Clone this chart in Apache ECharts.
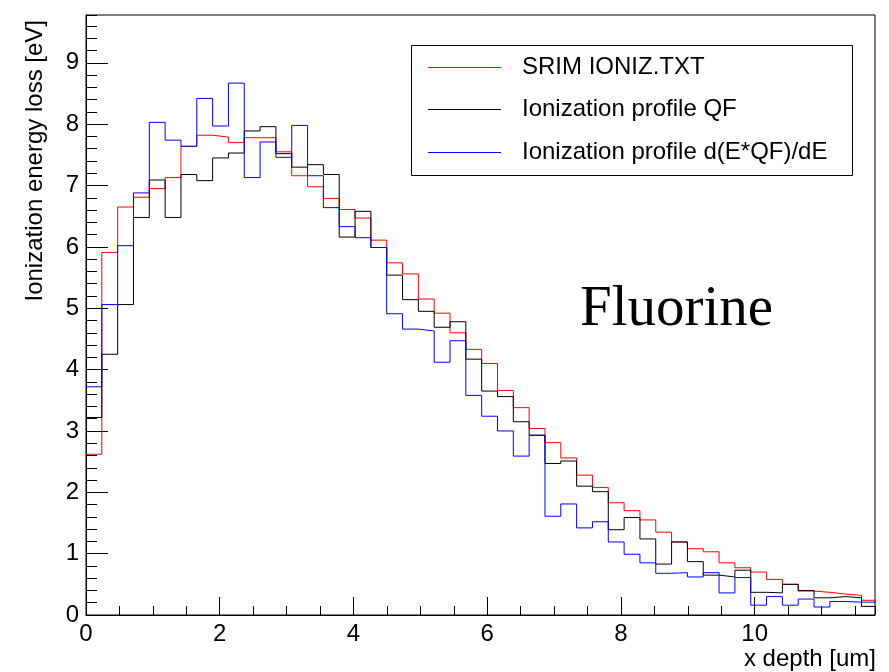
<!DOCTYPE html>
<html>
<head>
<meta charset="utf-8">
<script src="https://cdn.jsdelivr.net/npm/echarts@6/dist/echarts.min.js"></script>
<style>
html,body{margin:0;padding:0;background:#fff;}
#chart{width:889px;height:672px;}
</style>
</head>
<body>
<div id="chart"></div>
<script>
// ---- data ----
const binWidth = 0.2367;          // um per bin (50 bins)
const seriesNames = ['SRIM IONIZ.TXT', 'Ionization profile QF', 'Ionization profile d(E*QF)/dE'];
const srimIoniz = [2.62, 5.91, 6.65, 6.81, 6.95, 7.13, 7.64, 7.82, 7.79, 7.70,
                   7.78, 7.78, 7.55, 7.16, 6.98, 6.79, 6.61, 6.47, 6.11, 5.74,
                   5.56, 5.15, 4.92, 4.60, 4.33, 4.10, 3.66, 3.38, 3.04, 2.81,
                   2.56, 2.28, 2.08, 1.83, 1.70, 1.55, 1.35, 1.19, 1.08, 1.03,
                   0.85, 0.77, 0.70, 0.58, 0.50, 0.39, 0.37, 0.34, 0.32, 0.24];
const profileQF = [3.22, 4.25, 5.06, 6.48, 7.09, 6.48, 7.18, 7.08, 7.45, 7.53,
                   7.89, 7.96, 7.52, 7.30, 7.34, 7.18, 6.16, 6.58, 5.99, 5.54,
                   5.14, 4.95, 4.69, 4.78, 4.17, 3.65, 3.56, 3.15, 2.93, 2.47,
                   2.51, 2.10, 2.01, 1.39, 1.59, 1.24, 0.83, 1.19, 0.87, 0.65,
                   0.62, 0.73, 0.37, 0.36, 0.50, 0.40, 0.28, 0.30, 0.28, 0.14];
const profileDEQF = [3.72, 5.06, 6.02, 6.88, 8.03, 7.74, 7.64, 8.42, 7.97, 8.67,
                     7.13, 7.71, 7.46, 7.98, 7.16, 6.64, 6.33, 6.15, 5.99, 4.91,
                     4.66, 4.63, 4.12, 4.47, 3.58, 3.24, 3.00, 2.59, 2.93, 1.61,
                     1.81, 1.42, 1.52, 1.19, 0.99, 0.85, 0.68, 0.69, 0.62, 0.69,
                     0.36, 0.61, 0.16, 0.30, 0.16, 0.26, 0.13, 0.22, 0.21, 0.21];
const xTickLabels = ['0', '2', '4', '6', '8', '10'];
const yTickLabels = ['0', '1', '2', '3', '4', '5', '6', '7', '8', '9'];
const xTitle = 'x depth [um]';
const yTitle = 'Ionization energy loss [eV]';
const annotation = 'Fluorine';

// ---- build ----
const colors = ['#ff0000', '#000000', '#0000ff'];
function histPoints(vals) {
  const pts = vals.map((v, i) => [i * binWidth, v]);
  pts.push([vals.length * binWidth, vals[vals.length - 1]]);
  return pts;
}
const FONT = '"Liberation Sans", Arial, Helvetica, sans-serif';
const xMax = 11.8, yMax = 9.78;

function labelFmt(list) {
  return function (v) {
    const s = String(Math.round(v * 1000) / 1000);
    return list.indexOf(s) >= 0 && Math.abs(v - Math.round(v)) < 1e-6 ? s : '';
  };
}

const chart = echarts.init(document.getElementById('chart'), null, { renderer: 'canvas' });
const legendY = [67, 109, 152];
const graphics = [
  { type: 'text', x: 35, y: 20, rotation: Math.PI / 2, z: 10,
    style: { text: yTitle, font: '24px ' + FONT, fill: '#000', align: 'right', verticalAlign: 'middle' } },
  { type: 'text', x: 876, y: 659, z: 10,
    style: { text: xTitle, font: '24px ' + FONT, fill: '#000', align: 'right', verticalAlign: 'middle' } },
  { type: 'rect', z: 10, shape: { x: 411.5, y: 45.5, width: 441, height: 130 },
    style: { fill: '#fff', stroke: '#000', lineWidth: 1 } },
  { type: 'text', x: 580, y: 310, z: 10,
    style: { text: annotation, font: '57px "Liberation Serif", "Times New Roman", serif', fill: '#000', align: 'left', verticalAlign: 'middle' } }
];
seriesNames.forEach((n, i) => {
  graphics.push({ type: 'line', z: 11, shape: { x1: 428, y1: legendY[i] + 0.5, x2: 501, y2: legendY[i] + 0.5 },
    style: { stroke: colors[i], lineWidth: 1.2 } });
  graphics.push({ type: 'text', x: 522, y: legendY[i], z: 11,
    style: { text: n, font: '24px ' + FONT, fill: '#000', align: 'left', verticalAlign: 'middle' } });
});

const option = {
  animation: false,
  backgroundColor: '#fff',
  grid: { left: 86, right: 14, top: 15, bottom: 57, show: true, borderColor: '#000', borderWidth: 1, backgroundColor: 'transparent' },
  xAxis: [
    { type: 'value', min: 0, max: xMax, interval: 2, position: 'bottom',
      axisLine: { show: true, onZero: false, lineStyle: { color: '#000', width: 1 } },
      axisTick: { show: true, inside: true, length: 18, lineStyle: { color: '#000' } },
      axisLabel: { show: true, margin: 7, fontSize: 24, fontFamily: FONT, color: '#000', formatter: labelFmt(xTickLabels), showMaxLabel: false },
      splitLine: { show: false } },
    { type: 'value', min: 0, max: xMax, interval: 0.5, position: 'bottom', offset: 0,
      axisLine: { show: false },
      axisTick: { show: true, inside: true, length: 9, lineStyle: { color: '#000' } },
      axisLabel: { show: false }, splitLine: { show: false } }
  ],
  yAxis: [
    { type: 'value', min: 0, max: yMax, interval: 1, position: 'left',
      axisLine: { show: true, onZero: false, lineStyle: { color: '#000', width: 1 } },
      axisTick: { show: true, inside: true, length: 22, lineStyle: { color: '#000' } },
      axisLabel: { show: true, margin: 7, fontSize: 24, fontFamily: FONT, color: '#000', formatter: labelFmt(yTickLabels), showMaxLabel: false },
      splitLine: { show: false } },
    { type: 'value', min: 0, max: yMax, interval: 0.2, position: 'left', offset: 0,
      axisLine: { show: false },
      axisTick: { show: true, inside: true, length: 11, lineStyle: { color: '#000' } },
      axisLabel: { show: false }, splitLine: { show: false } }
  ],
  series: [srimIoniz, profileQF, profileDEQF].map((vals, i) => ({
    name: seriesNames[i], type: 'line', xAxisIndex: 0, yAxisIndex: 0,
    data: histPoints(vals), step: 'end', symbol: 'none', showSymbol: false,
    clip: true, lineStyle: { color: colors[i], width: 1 }, itemStyle: { color: colors[i] },
    z: 2 + i
  })),
  graphic: graphics
};
chart.setOption(option);
</script>
</body>
</html>
